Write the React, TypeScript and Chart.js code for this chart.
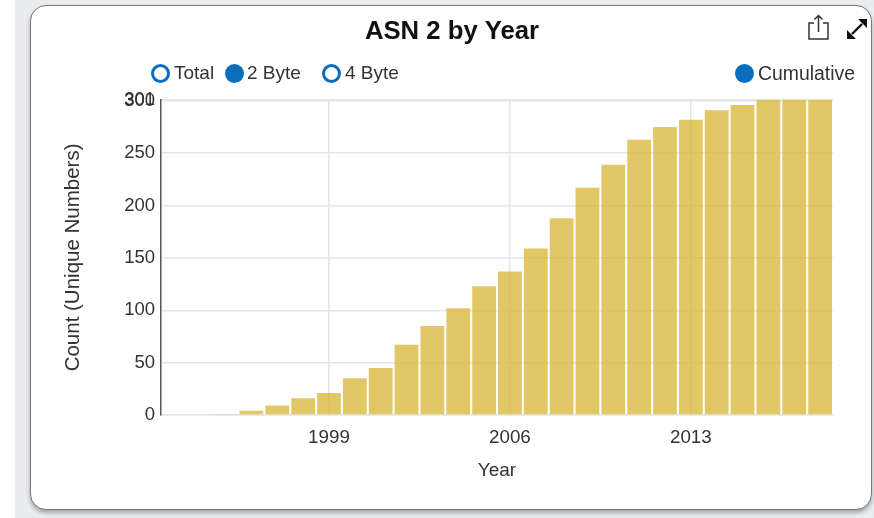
import React, { useEffect, useRef } from "react";
import { Chart, registerables } from "chart.js";

Chart.register(...registerables);

const years = ["1993","1994","1995","1996","1997","1998","1999","2000","2001","2002","2003","2004","2005","2006","2007","2008","2009","2010","2011","2012","2013","2014","2015","2016","2017","2018"];
const counts = [0,0,1,4,9,16,21,35,45,67,85,102,123,137,159,188,217,239,263,275,282,291,296,301,301,301];
const shownYears = ["1999","2006","2013"];
const yTicks = [0,50,100,150,200,250,300,301];
const leftLegend = [
  { label: "Total", on: false, iconX: 151, textX: 174 },
  { label: "2 Byte", on: true, iconX: 225, textX: 247 },
  { label: "4 Byte", on: false, iconX: 322, textX: 345 },
];
const FONT = "'Liberation Sans', Arial, sans-serif";

function Dot({ x, on }: { x: number; on: boolean }) {
  return (
    <div style={{ position: "absolute", left: x, top: 64, width: 19, height: 19, boxSizing: "border-box", borderRadius: "50%", border: "3px solid #0a6ebd", background: on ? "#0a6ebd" : "#fff" }} />
  );
}

export default function App() {
  const ref = useRef<HTMLCanvasElement>(null);
  useEffect(() => {
    const chart = new Chart(ref.current!, {
      type: "bar",
      data: {
        labels: years,
        datasets: [{ label: "2 Byte", data: counts, backgroundColor: "rgba(218,183,60,0.78)", barPercentage: 1, categoryPercentage: 0.92 }],
      },
      options: {
        responsive: false,
        animation: false,
        layout: { padding: { left: 41, right: 41, top: 0, bottom: 28 } },
        plugins: {
          legend: { display: false },
          tooltip: { enabled: false },
          title: { display: true, text: "ASN 2 by Year", color: "#111", font: { family: FONT, size: 25.7, weight: "bold" }, padding: { top: 11, bottom: 53 } },
        },
        scales: {
          x: {
            offset: true,
            afterBuildTicks: (s: any) => { s.ticks = s.ticks.filter((t: any) => shownYears.includes(years[t.value])); },
            afterFit: (s: any) => { s.height = 67; },
            grid: { offset: false, color: "#e6e6e6", lineWidth: 1.5, drawTicks: false },
            border: { color: "#e6e6e6", width: 1.5 },
            ticks: { autoSkip: false, maxRotation: 0, color: "#333", padding: 12, font: { family: FONT, size: 18.8 } },
            title: { display: true, text: "Year", color: "#333", padding: { top: 14, bottom: 0 }, font: { family: FONT, size: 19 } },
          },
          y: {
            min: 0,
            max: 301,
            afterBuildTicks: (s: any) => { s.ticks = yTicks.map((value) => ({ value })); },
            afterFit: (s: any) => { s.width = 90; },
            grid: { color: "#e6e6e6", lineWidth: 1.5, drawTicks: false },
            border: { color: "#555", width: 1.5 },
            ticks: { color: "#333", padding: 6, font: { family: FONT, size: 18.5 } },
            title: { display: true, text: "Count (Unique Numbers)", color: "#333", padding: { top: -10, bottom: 0 }, font: { family: FONT, size: 20.5 } },
          },
        },
      } as any,
    });
    return () => chart.destroy();
  }, []);

  return (
    <div style={{ position: "fixed", left: 0, top: 0, width: 874, height: 518, overflow: "hidden", background: "#fff", fontFamily: FONT }}>
      <div style={{ position: "absolute", left: 15, top: 0, width: 859, height: 518, background: "#eaecf0" }} />
      <div style={{ position: "absolute", left: 30, top: 5, width: 842, height: 505, boxSizing: "border-box", background: "#fff", border: "1.5px solid #777", borderRadius: 16, boxShadow: "0 3px 4px rgba(0,0,0,0.3)" }} />
      <canvas ref={ref} width={844} height={505} style={{ position: "absolute", left: 30, top: 5 }} />
      {leftLegend.map((d) => (
        <React.Fragment key={d.label}>
          <Dot x={d.iconX} on={d.on} />
          <div style={{ position: "absolute", left: d.textX, top: 62, fontSize: 19, lineHeight: "22px", color: "#333", whiteSpace: "nowrap" }}>{d.label}</div>
        </React.Fragment>
      ))}
      <Dot x={735} on={true} />
      <div style={{ position: "absolute", left: 758, top: 62, fontSize: 19.4, lineHeight: "22px", color: "#333", whiteSpace: "nowrap" }}>Cumulative</div>
      <svg style={{ position: "absolute", left: 800, top: 10 }} width={72} height={36} viewBox="0 0 72 36">
        <path d="M14 13 H9 V29 H28 V13 H23 M18.5 22 V6 M14.5 9.5 L18.5 5.5 L22.5 9.5" fill="none" stroke="#333" strokeWidth="1.5" />
        <path d="M52 24 L62 14" stroke="#111" strokeWidth="2.4" />
        <path d="M58 9 H67 V18 Z M47 20 V29 H56 Z" fill="#111" />
      </svg>
    </div>
  );
}
